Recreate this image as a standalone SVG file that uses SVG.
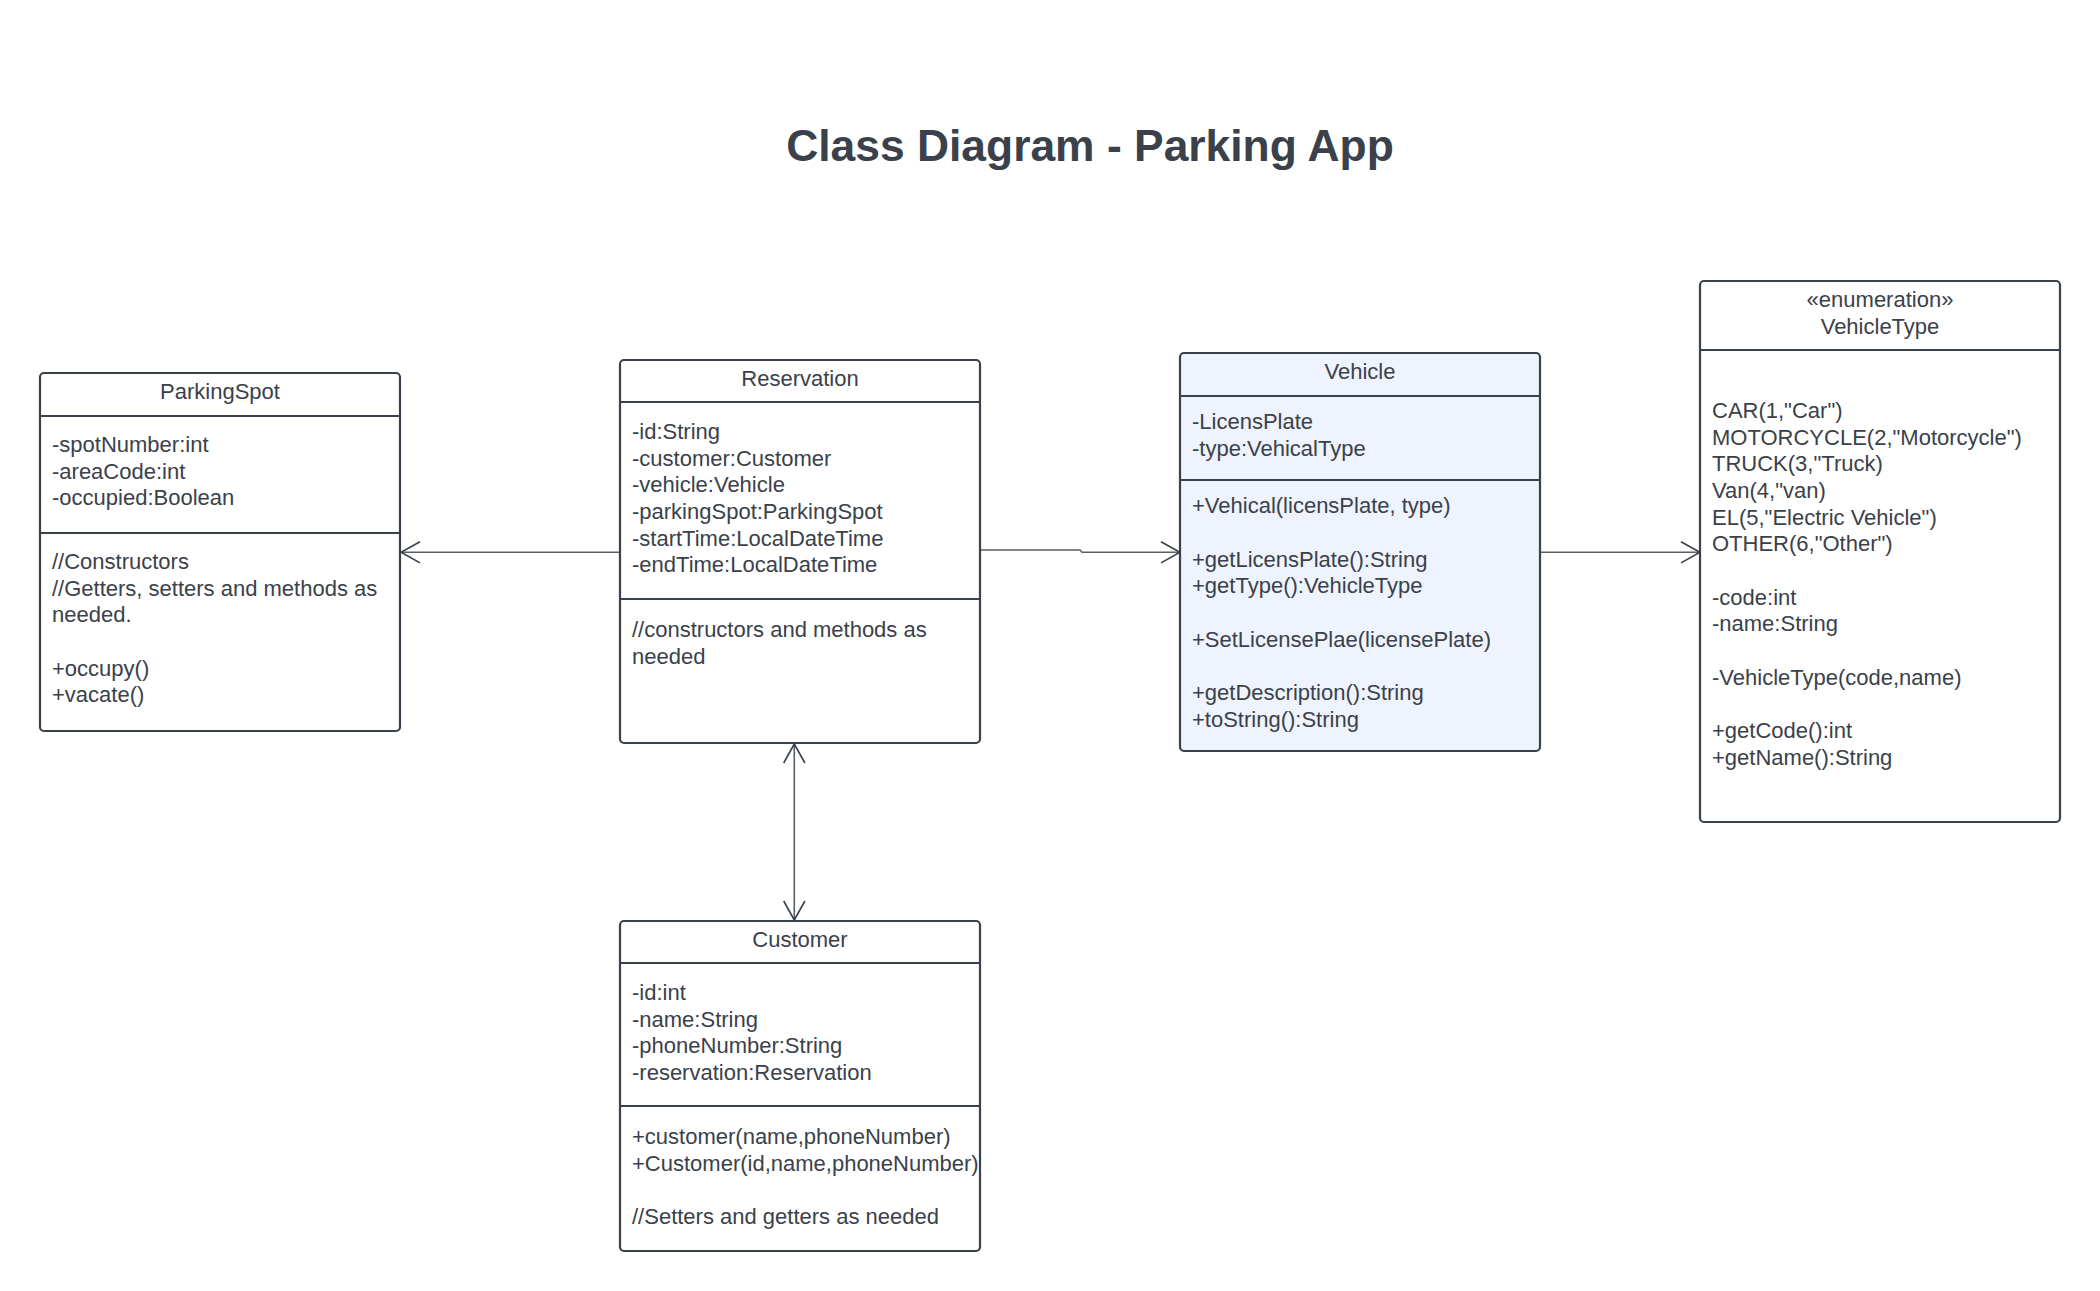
<svg xmlns="http://www.w3.org/2000/svg" width="2100" height="1291" viewBox="0 0 2100 1291">
<style>
.box{fill:#ffffff;stroke:#3a414a;stroke-width:2.2}
.veh{fill:#eef3fd}
.sep{stroke:#3a414a;stroke-width:2.2}
.t{font-family:"Liberation Sans",Arial,sans-serif;font-size:22px;fill:#3a414a}
.h{text-anchor:middle}
.title{font-family:"Liberation Sans",Arial,sans-serif;font-size:44.4px;font-weight:bold;fill:#3a414a;text-anchor:middle}
.conn{fill:none;stroke:#5a5f66;stroke-width:1.6}
.head{fill:none;stroke:#3a414a;stroke-width:1.6}
</style>
<rect width="2100" height="1291" fill="#ffffff"/>
<text class="title" x="1090" y="161">Class Diagram - Parking App</text>

<g id="connectors">
  <path class="conn" d="M620,552.3 L401,552.3"/>
  <path class="head" d="M420,541.7 L401,552.3 L420,562.9"/>
  <path class="conn" d="M980,550 L1080,550 L1082,552.3 L1180,552.3"/>
  <path class="head" d="M1161,541.7 L1180,552.3 L1161,562.9"/>
  <path class="conn" d="M1540,552.3 L1700,552.3"/>
  <path class="head" d="M1681,541.7 L1700,552.3 L1681,562.9"/>
  <path class="conn" d="M794.3,744 L794.3,920"/>
  <path class="head" d="M783.7,763 L794.3,744 L804.9,763"/>
  <path class="head" d="M783.7,901 L794.3,920 L804.9,901"/>
</g>

<g id="ParkingSpot">
  <rect class="box" x="40" y="373" width="360" height="358" rx="4"/>
  <line class="sep" x1="40" y1="416" x2="400" y2="416"/>
  <line class="sep" x1="40" y1="533" x2="400" y2="533"/>
  <text class="t h" x="220" y="399">ParkingSpot</text>
  <text class="t" x="52" y="452">
    <tspan x="52" y="452">-spotNumber:int</tspan>
    <tspan x="52" y="478.7">-areaCode:int</tspan>
    <tspan x="52" y="505.3">-occupied:Boolean</tspan>
  </text>
  <text class="t" x="52" y="569">
    <tspan x="52" y="569">//Constructors</tspan>
    <tspan x="52" y="595.7">//Getters, setters and methods as</tspan>
    <tspan x="52" y="622.3">needed.</tspan>
    <tspan x="52" y="675.7">+occupy()</tspan>
    <tspan x="52" y="702.3">+vacate()</tspan>
  </text>
</g>

<g id="Reservation">
  <rect class="box" x="620" y="360" width="360" height="383" rx="4"/>
  <line class="sep" x1="620" y1="402" x2="980" y2="402"/>
  <line class="sep" x1="620" y1="599" x2="980" y2="599"/>
  <text class="t h" x="800" y="386">Reservation</text>
  <text class="t" x="632" y="439">
    <tspan x="632" y="439">-id:String</tspan>
    <tspan x="632" y="465.7">-customer:Customer</tspan>
    <tspan x="632" y="492.3">-vehicle:Vehicle</tspan>
    <tspan x="632" y="519">-parkingSpot:ParkingSpot</tspan>
    <tspan x="632" y="545.7">-startTime:LocalDateTime</tspan>
    <tspan x="632" y="572.3">-endTime:LocalDateTime</tspan>
  </text>
  <text class="t" x="632" y="637">
    <tspan x="632" y="637">//constructors and methods as</tspan>
    <tspan x="632" y="663.7">needed</tspan>
  </text>
</g>

<g id="Vehicle">
  <rect class="box veh" x="1180" y="353" width="360" height="398" rx="4"/>
  <line class="sep" x1="1180" y1="396" x2="1540" y2="396"/>
  <line class="sep" x1="1180" y1="480" x2="1540" y2="480"/>
  <text class="t h" x="1360" y="379">Vehicle</text>
  <text class="t" x="1192" y="429">
    <tspan x="1192" y="429">-LicensPlate</tspan>
    <tspan x="1192" y="455.7">-type:VehicalType</tspan>
  </text>
  <text class="t" x="1192" y="513">
    <tspan x="1192" y="513">+Vehical(licensPlate, type)</tspan>
    <tspan x="1192" y="566.7">+getLicensPlate():String</tspan>
    <tspan x="1192" y="593.3">+getType():VehicleType</tspan>
    <tspan x="1192" y="646.7">+SetLicensePlae(licensePlate)</tspan>
    <tspan x="1192" y="700">+getDescription():String</tspan>
    <tspan x="1192" y="726.7">+toString():String</tspan>
  </text>
</g>

<g id="VehicleType">
  <rect class="box" x="1700" y="281" width="360" height="541" rx="4"/>
  <line class="sep" x1="1700" y1="350" x2="2060" y2="350"/>
  <text class="t h" x="1880" y="307">«enumeration»</text>
  <text class="t h" x="1880" y="334">VehicleType</text>
  <text class="t" x="1712" y="418">
    <tspan x="1712" y="418">CAR(1,"Car")</tspan>
    <tspan x="1712" y="444.7">MOTORCYCLE(2,"Motorcycle")</tspan>
    <tspan x="1712" y="471.3">TRUCK(3,"Truck)</tspan>
    <tspan x="1712" y="498">Van(4,"van)</tspan>
    <tspan x="1712" y="524.7">EL(5,"Electric Vehicle")</tspan>
    <tspan x="1712" y="551.3">OTHER(6,"Other")</tspan>
    <tspan x="1712" y="604.7">-code:int</tspan>
    <tspan x="1712" y="631.3">-name:String</tspan>
    <tspan x="1712" y="684.7">-VehicleType(code,name)</tspan>
    <tspan x="1712" y="738">+getCode():int</tspan>
    <tspan x="1712" y="764.7">+getName():String</tspan>
  </text>
</g>

<g id="Customer">
  <rect class="box" x="620" y="921" width="360" height="330" rx="4"/>
  <line class="sep" x1="620" y1="963" x2="980" y2="963"/>
  <line class="sep" x1="620" y1="1106" x2="980" y2="1106"/>
  <text class="t h" x="800" y="947">Customer</text>
  <text class="t" x="632" y="1000">
    <tspan x="632" y="1000">-id:int</tspan>
    <tspan x="632" y="1026.7">-name:String</tspan>
    <tspan x="632" y="1053.3">-phoneNumber:String</tspan>
    <tspan x="632" y="1080">-reservation:Reservation</tspan>
  </text>
  <text class="t" x="632" y="1144">
    <tspan x="632" y="1144">+customer(name,phoneNumber)</tspan>
    <tspan x="632" y="1170.7">+Customer(id,name,phoneNumber)</tspan>
    <tspan x="632" y="1224">//Setters and getters as needed</tspan>
  </text>
</g>
</svg>
